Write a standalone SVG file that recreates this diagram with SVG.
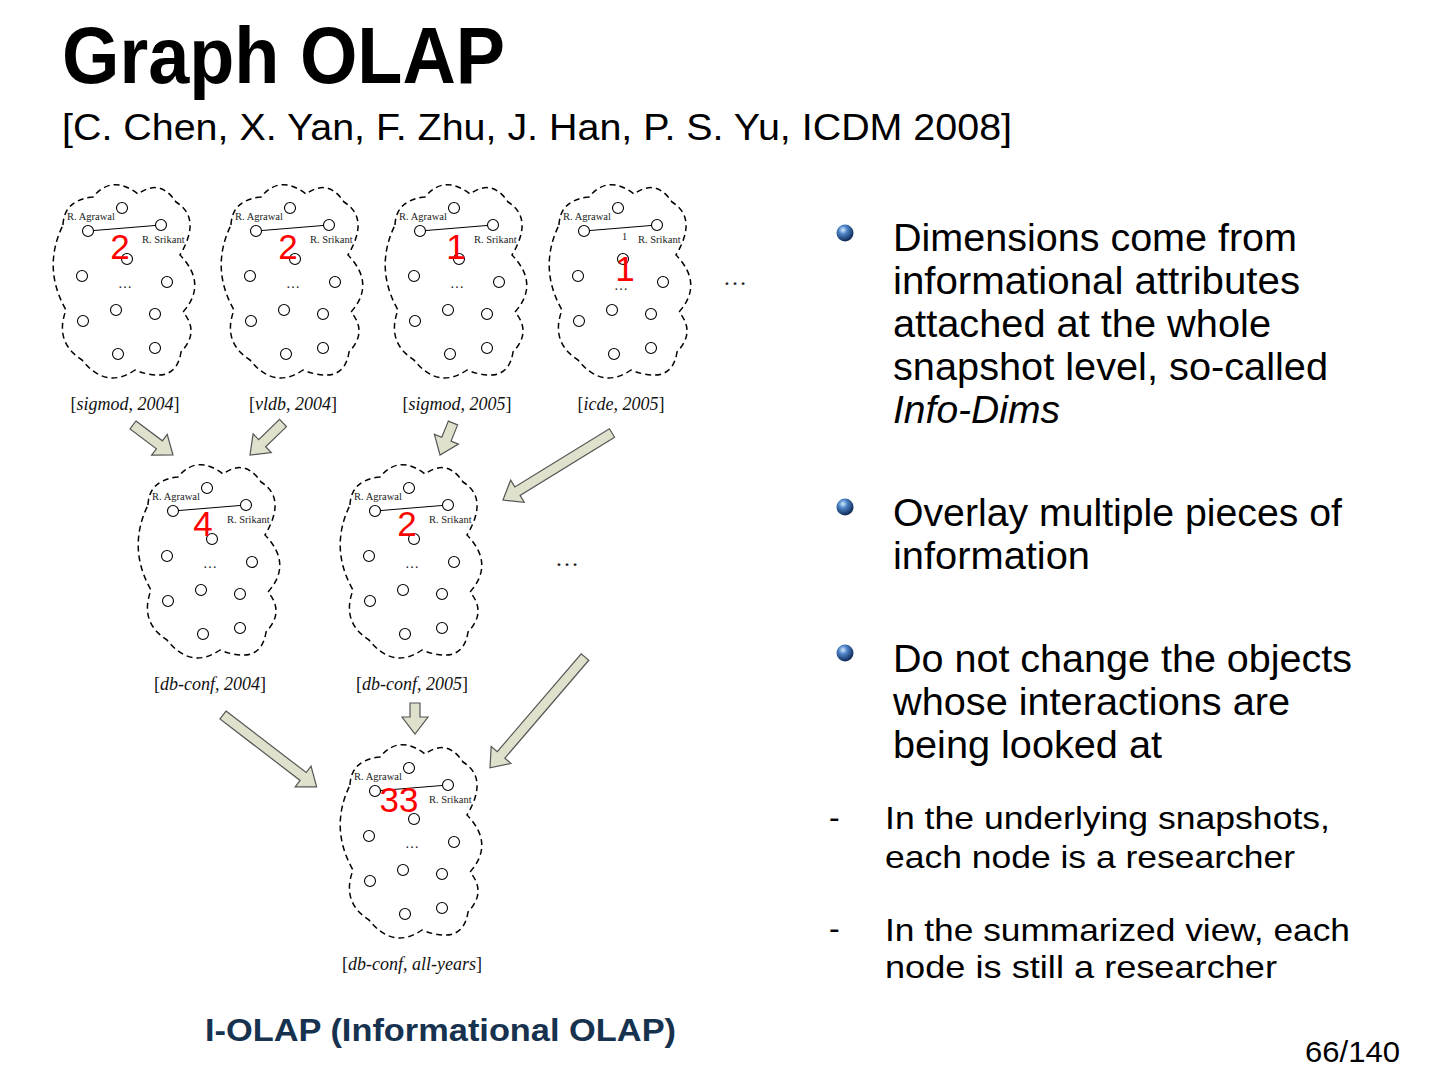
<svg xmlns="http://www.w3.org/2000/svg" xmlns:xlink="http://www.w3.org/1999/xlink" width="1440" height="1080" viewBox="0 0 1440 1080">
<style>
.cloud{fill:none;stroke:#000;stroke-width:1.5;stroke-dasharray:6 4}
.nd{fill:#fff;stroke:#000;stroke-width:1.1}
.ed{stroke:#000;stroke-width:1}
.nm{font-family:"Liberation Serif",serif;font-size:10.5px;fill:#222}
.dots{font-family:"Liberation Serif",serif;font-size:14px;fill:#222;text-anchor:middle}
.big{font-size:24px}
.lab{font-family:"Liberation Serif",serif;font-size:18px;fill:#111;text-anchor:middle}
.it{font-style:italic}
.red{font-family:"Liberation Sans",Arial,sans-serif;font-size:35px;fill:#f00;text-anchor:middle}
.arr{fill:#dfe1cc;stroke:#555;stroke-width:1.2;stroke-linejoin:miter}
.txt{font-family:"Liberation Sans",Arial,sans-serif;fill:#000}
.b{font-size:38px}
.s{font-size:32px}
</style>
<defs>
<path id="cloudPath" d="M13,45 Q14,20 43,17 Q62,-6 88,14 Q110,-2 126,22 Q152,38 130,75 Q158,104 133,132 Q150,152 131,172 Q126,206 85,190 Q56,210 32,180 Q4,162 16,130 Q-8,88 13,45 Z"/>
<g id="cloudBody">
<use xlink:href="#cloudPath" class="cloud"/>
<line class="ed" x1="38" y1="51" x2="111" y2="45"/>
<circle class="nd" cx="72" cy="28" r="5.5"/>
<circle class="nd" cx="38" cy="51" r="5.5"/>
<circle class="nd" cx="111" cy="45" r="5.5"/>
<circle class="nd" cx="77" cy="79" r="5.5"/>
<circle class="nd" cx="32" cy="96" r="5.5"/>
<circle class="nd" cx="117" cy="102" r="5.5"/>
<circle class="nd" cx="66" cy="130" r="5.5"/>
<circle class="nd" cx="105" cy="134" r="5.5"/>
<circle class="nd" cx="33" cy="141" r="5.5"/>
<circle class="nd" cx="68" cy="174" r="5.5"/>
<circle class="nd" cx="105" cy="168" r="5.5"/>
</g>
<radialGradient id="ball" cx="0.38" cy="0.32" r="0.7">
<stop offset="0" stop-color="#d8ecff"/>
<stop offset="0.35" stop-color="#4f86c9"/>
<stop offset="1" stop-color="#0b2450"/>
</radialGradient>
</defs>

<rect width="1440" height="1080" fill="#fff"/>

<g id="title">
<text class="txt" x="62" y="83" font-size="80" font-weight="bold" textLength="443" lengthAdjust="spacingAndGlyphs">Graph OLAP</text>
<text class="txt" x="62" y="140" font-size="36" textLength="950" lengthAdjust="spacingAndGlyphs">[C. Chen, X. Yan, F. Zhu, J. Han, P. S. Yu, ICDM 2008]</text>
</g>

<g id="connectors">
<path class="arr" transform="translate(133,425) rotate(36.87)" d="M0,-5 H33 V-13 L50,0 L33,13 V5 H0 Z"/>
<path class="arr" transform="translate(283,423) rotate(135.9)" d="M0,-5 H29 V-13 L46,0 L29,13 V5 H0 Z"/>
<path class="arr" transform="translate(453,423) rotate(112.1)" d="M0,-5 H17.5 V-13 L34.5,0 L17.5,13 V5 H0 Z"/>
<path class="arr" transform="translate(612,433) rotate(148.4)" d="M0,-5 H111 V-13 L128,0 L111,13 V5 H0 Z"/>
<path class="arr" transform="translate(223,715) rotate(37.5)" d="M0,-5 H101 V-13 L118,0 L101,13 V5 H0 Z"/>
<path class="arr" transform="translate(415,703) rotate(90)" d="M0,-5 H14 V-13 L31,0 L14,13 V5 H0 Z"/>
<path class="arr" transform="translate(585,657) rotate(130.6)" d="M0,-5 H129 V-13 L146,0 L129,13 V5 H0 Z"/>
</g>

<g id="n-sigmod2004" transform="translate(50,180)">
<use xlink:href="#cloudBody"/>
<text class="nm" x="17" y="40">R. Agrawal</text>
<text class="nm" x="92" y="63">R. Srikant</text>
<text class="dots" x="75" y="108">…</text>
<text class="red" x="70" y="79">2</text>
<text class="lab" x="75" y="230">[<tspan class="it">sigmod, 2004</tspan>]</text>
</g>

<g id="n-vldb2004" transform="translate(218,180)">
<use xlink:href="#cloudBody"/>
<text class="nm" x="17" y="40">R. Agrawal</text>
<text class="nm" x="92" y="63">R. Srikant</text>
<text class="dots" x="75" y="108">…</text>
<text class="red" x="70" y="79">2</text>
<text class="lab" x="75" y="230">[<tspan class="it">vldb, 2004</tspan>]</text>
</g>

<g id="n-sigmod2005" transform="translate(382,180)">
<use xlink:href="#cloudBody"/>
<text class="nm" x="17" y="40">R. Agrawal</text>
<text class="nm" x="92" y="63">R. Srikant</text>
<text class="dots" x="75" y="108">…</text>
<text class="red" x="74" y="79">1</text>
<text class="lab" x="75" y="230">[<tspan class="it">sigmod, 2005</tspan>]</text>
</g>

<g id="n-icde2005" transform="translate(546,180)">
<use xlink:href="#cloudBody"/>
<text class="nm" x="17" y="40">R. Agrawal</text>
<text class="nm" x="92" y="63">R. Srikant</text>
<text class="nm" x="76" y="60">1</text>
<text class="dots" x="75" y="110">…</text>
<text class="red" x="79" y="101">1</text>
<text class="lab" x="75" y="230">[<tspan class="it">icde, 2005</tspan>]</text>
</g>

<text class="dots big" x="735" y="285">…</text>

<g id="n-dbconf2004" transform="translate(135,460)">
<use xlink:href="#cloudBody"/>
<text class="nm" x="17" y="40">R. Agrawal</text>
<text class="nm" x="92" y="63">R. Srikant</text>
<text class="dots" x="75" y="108">…</text>
<text class="red" x="68" y="76">4</text>
<text class="lab" x="75" y="230">[<tspan class="it">db-conf, 2004</tspan>]</text>
</g>

<g id="n-dbconf2005" transform="translate(337,460)">
<use xlink:href="#cloudBody"/>
<text class="nm" x="17" y="40">R. Agrawal</text>
<text class="nm" x="92" y="63">R. Srikant</text>
<text class="dots" x="75" y="108">…</text>
<text class="red" x="70" y="76">2</text>
<text class="lab" x="75" y="230">[<tspan class="it">db-conf, 2005</tspan>]</text>
</g>

<text class="dots big" x="567" y="566">…</text>

<g id="n-dbconfall" transform="translate(337,740)">
<use xlink:href="#cloudBody"/>
<text class="nm" x="17" y="40">R. Agrawal</text>
<text class="nm" x="92" y="63">R. Srikant</text>
<text class="dots" x="75" y="108">…</text>
<text class="red" x="62" y="72">33</text>
<text class="lab" x="75" y="230">[<tspan class="it">db-conf, all-years</tspan>]</text>
</g>

<g id="caption">
<text class="txt" x="205" y="1041" font-size="32" font-weight="bold" style="fill:#17324f" textLength="471" lengthAdjust="spacingAndGlyphs">I-OLAP (Informational OLAP)</text>
</g>

<g id="bullets">
<circle cx="845" cy="233" r="8.5" fill="url(#ball)"/>
<text class="txt b" x="893" y="251" textLength="404" lengthAdjust="spacingAndGlyphs">Dimensions come from</text>
<text class="txt b" x="893" y="294" textLength="407" lengthAdjust="spacingAndGlyphs">informational attributes</text>
<text class="txt b" x="893" y="337" textLength="378" lengthAdjust="spacingAndGlyphs">attached at the whole</text>
<text class="txt b" x="893" y="380" textLength="435" lengthAdjust="spacingAndGlyphs">snapshot level, so-called</text>
<text class="txt b" x="893" y="423" font-style="italic" textLength="167" lengthAdjust="spacingAndGlyphs">Info-Dims</text>

<circle cx="845" cy="507" r="8.5" fill="url(#ball)"/>
<text class="txt b" x="893" y="526" textLength="449" lengthAdjust="spacingAndGlyphs">Overlay multiple pieces of</text>
<text class="txt b" x="893" y="569" textLength="197" lengthAdjust="spacingAndGlyphs">information</text>

<circle cx="845" cy="653" r="8.5" fill="url(#ball)"/>
<text class="txt b" x="893" y="672" textLength="459" lengthAdjust="spacingAndGlyphs">Do not change the objects</text>
<text class="txt b" x="893" y="715" textLength="397" lengthAdjust="spacingAndGlyphs">whose interactions are</text>
<text class="txt b" x="893" y="758" textLength="269" lengthAdjust="spacingAndGlyphs">being looked at</text>

<text class="txt s" x="829" y="828">-</text>
<text class="txt s" x="885" y="829" textLength="445" lengthAdjust="spacingAndGlyphs">In the underlying snapshots,</text>
<text class="txt s" x="885" y="868" textLength="410" lengthAdjust="spacingAndGlyphs">each node is a researcher</text>

<text class="txt s" x="829" y="939">-</text>
<text class="txt s" x="885" y="941" textLength="465" lengthAdjust="spacingAndGlyphs">In the summarized view, each</text>
<text class="txt s" x="885" y="978" textLength="392" lengthAdjust="spacingAndGlyphs">node is still a researcher</text>
</g>

<text class="txt" x="1305" y="1062" font-size="30" textLength="95" lengthAdjust="spacingAndGlyphs">66/140</text>
</svg>
